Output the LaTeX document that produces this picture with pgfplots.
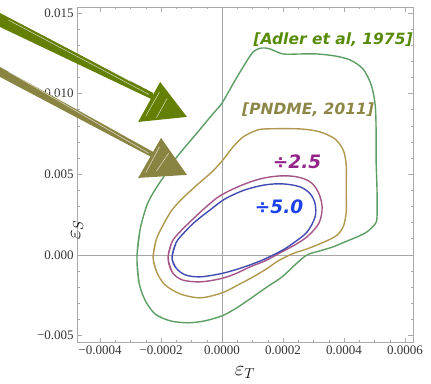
\documentclass[border=0pt]{standalone}
\usepackage{pgfplots}
\pgfplotsset{compat=1.18}
\usepackage{fontspec}
\setmainfont{Liberation Serif}
\newfontfamily\annfont{DejaVu Sans}

\definecolor{framegray}{RGB}{170,170,170}
\definecolor{zerogray}{RGB}{165,165,165}
\definecolor{adlerline}{RGB}{92,158,100}
\definecolor{pndmeline}{RGB}{176,152,78}
\definecolor{magline}{RGB}{165,85,135}
\definecolor{blueline}{RGB}{65,75,178}
\definecolor{adlertext}{RGB}{88,140,8}
\definecolor{pndmetext}{RGB}{140,135,72}
\definecolor{magtext}{RGB}{148,36,138}
\definecolor{bluetext}{RGB}{28,66,235}
\definecolor{arrowA}{RGB}{100,128,4}
\definecolor{arrowB}{RGB}{138,132,66}

\begin{document}
\begin{tikzpicture}
\begin{axis}[
  scale only axis, width=336pt, height=336pt,
  xmin=-0.000475, xmax=0.000626, ymin=-0.00545, ymax=0.01537,
  clip=false,
  axis line style={framegray, line width=0.6pt},
  xtick={-0.0004,-0.0002,0,0.0002,0.0004,0.0006},
  xticklabels={−0.0004,−0.0002,0.0000,0.0002,0.0004,0.0006},
  ytick={-0.005,0,0.005,0.010,0.015},
  yticklabels={−0.005,0.000,0.005,0.010,0.015},
  scaled x ticks=false, scaled y ticks=false,
  minor x tick num=3, minor y tick num=4,
  tick align=inside,
  major tick length=5pt, minor tick length=2.5pt,
  every tick/.style={framegray, line width=0.5pt},
  ticklabel style={font=\fontsize{13}{15}\selectfont, text=black!80},
  xlabel={\fontsize{22}{24}\selectfont$\varepsilon_T$},
  ylabel={\fontsize{22}{24}\selectfont$\varepsilon_S$},
  xlabel style={at={(axis description cs:0.5,0)}, anchor=center, yshift=-30pt, inner sep=0pt},
  ylabel style={at={(axis description cs:0,0.5)}, anchor=center, xshift=-55pt, inner sep=0pt},
]

% axes through the origin
\draw[zerogray, line width=0.6pt] (axis cs:0,-0.00545) -- (axis cs:0,0.01537);
\draw[zerogray, line width=0.6pt] (axis cs:-0.000475,0) -- (axis cs:0.000626,0);

% Adler et al. 1975
\addplot[adlerline, line width=1.4pt, smooth, tension=0.5] coordinates {
(-0.000272,-0.001735)
(-0.000279,-0.000186) (-0.000269,0.001549) (-0.000246,0.003098) (-0.000220,0.004027)
(-0.000187,0.004957) (-0.000148,0.006072) (-0.000082,0.007559) (-0.000033,0.008674)
(0.000000,0.009418) (0.000036,0.010595) (0.000069,0.011648) (0.000102,0.012578)
(0.000131,0.012826) (0.000157,0.012764) (0.000200,0.012454) (0.000256,0.012454)
(0.000311,0.012454) (0.000370,0.012330) (0.000420,0.012082) (0.000462,0.011525)
(0.000489,0.010533) (0.000502,0.009294) (0.000505,0.007745) (0.000505,0.005886)
(0.000508,0.004027) (0.000508,0.002354) (0.000502,0.001921) (0.000475,0.001425)
(0.000443,0.001115) (0.000403,0.000805) (0.000364,0.000496) (0.000321,0.000248)
(0.000279,0.000000) (0.000239,-0.000620) (0.000197,-0.001363) (0.000148,-0.001983)
(0.000092,-0.002726) (0.000043,-0.003346) (0.000000,-0.003780) (-0.000056,-0.004089)
(-0.000111,-0.004213) (-0.000170,-0.004089) (-0.000220,-0.003656) (-0.000253,-0.002788)
(-0.000272,-0.001735) (-0.000279,-0.000186) (-0.000269,0.001549)
};

% PNDME 2011
\addplot[pndmeline, line width=1.4pt, smooth, tension=0.5] coordinates {
(-0.000213,-0.001115)
(-0.000226,-0.000186) (-0.000216,0.000929) (-0.000193,0.001859) (-0.000164,0.002788)
(-0.000128,0.003532) (-0.000082,0.004337) (-0.000033,0.005143) (0.000003,0.005886)
(0.000036,0.006692) (0.000069,0.007311) (0.000108,0.007683) (0.000141,0.007807)
(0.000256,0.007807) (0.000321,0.007621) (0.000370,0.007187) (0.000397,0.006506)
(0.000407,0.005576) (0.000407,0.004027) (0.000407,0.002664) (0.000397,0.001735)
(0.000374,0.001177) (0.000328,0.000744) (0.000279,0.000372) (0.000230,0.000062)
(0.000184,-0.000372) (0.000151,-0.000805) (0.000108,-0.001301) (0.000059,-0.001797)
(0.000000,-0.002354) (-0.000072,-0.002664) (-0.000138,-0.002416) (-0.000187,-0.001859)
(-0.000213,-0.001115) (-0.000226,-0.000186) (-0.000216,0.000929)
};

% errors divided by 2.5
\addplot[magline, line width=1.4pt, smooth, tension=0.55] coordinates {
(-0.000164,-0.001053)
(-0.000177,-0.000186) (-0.000164,0.000805) (-0.000138,0.001425) (-0.000105,0.002045)
(-0.000056,0.002912) (-0.000007,0.003656) (0.000059,0.004275) (0.000125,0.004709)
(0.000190,0.004895) (0.000246,0.004833) (0.000289,0.004523) (0.000315,0.003903)
(0.000328,0.002974) (0.000318,0.001983) (0.000282,0.001177) (0.000239,0.000620)
(0.000190,0.000124) (0.000141,-0.000372) (0.000092,-0.000744) (0.000043,-0.001177)
(-0.000007,-0.001487) (-0.000072,-0.001673) (-0.000131,-0.001549) (-0.000164,-0.001053)
(-0.000177,-0.000186) (-0.000164,0.000805)
};

% errors divided by 5.0
\addplot[blueline, line width=1.4pt, smooth, tension=0.55] coordinates {
(-0.000151,-0.000805)
(-0.000164,-0.000186) (-0.000151,0.000744) (-0.000125,0.001363) (-0.000089,0.002045)
(-0.000039,0.002788) (0.000010,0.003470) (0.000075,0.004027) (0.000141,0.004337)
(0.000200,0.004399) (0.000256,0.004213) (0.000289,0.003780) (0.000305,0.003160)
(0.000305,0.002354) (0.000279,0.001425) (0.000239,0.000805) (0.000200,0.000310)
(0.000141,-0.000248) (0.000092,-0.000620) (0.000043,-0.000929) (-0.000007,-0.001177)
(-0.000072,-0.001363) (-0.000121,-0.001239) (-0.000151,-0.000805) (-0.000164,-0.000186)
(-0.000151,0.000744)
};

% contour labels
\node[text=adlertext, font=\annfont\bfseries\itshape\fontsize{15.5}{17}\selectfont]
  at (axis cs:0.000364,0.013321) {[Adler et al, 1975]};
\node[text=pndmetext, font=\annfont\bfseries\itshape\fontsize{15.5}{17}\selectfont]
  at (axis cs:0.000282,0.008984) {[PNDME, 2011]};
\node[text=magtext, font=\annfont\bfseries\itshape\fontsize{18.5}{20}\selectfont]
  at (axis cs:0.000246,0.005762) {÷2.5};
\node[text=bluetext, font=\annfont\bfseries\itshape\fontsize{18.5}{20}\selectfont]
  at (axis cs:0.000187,0.002974) {÷5.0};

% sketched arrows pointing at the two outer contours
\fill[arrowA] (axis cs:-0.000728,0.014994) -- (axis cs:-0.000226,0.010038)
  -- (axis cs:-0.000226,0.009604) -- (axis cs:-0.000728,0.014127) -- cycle;
\fill[arrowA] (axis cs:-0.000275,0.008241) -- (axis cs:-0.000203,0.010719)
  -- (axis cs:-0.000115,0.008550) -- cycle;
\fill[arrowB] (axis cs:-0.000728,0.011648) -- (axis cs:-0.000226,0.006382)
  -- (axis cs:-0.000226,0.006010) -- (axis cs:-0.000728,0.011029) -- cycle;
\fill[arrowB] (axis cs:-0.000275,0.004771) -- (axis cs:-0.000200,0.007249)
  -- (axis cs:-0.000115,0.004957) -- cycle;
\begin{scope}[white, line width=0.5pt, opacity=0.75]
\draw (axis cs:-0.000700,0.014550) -- (axis cs:-0.000240,0.009950);
\draw (axis cs:-0.000640,0.014200) -- (axis cs:-0.000300,0.010750);
\draw (axis cs:-0.000700,0.011350) -- (axis cs:-0.000240,0.006300);
\draw (axis cs:-0.000620,0.010750) -- (axis cs:-0.000300,0.007200);
\draw (axis cs:-0.000250,0.008600) -- (axis cs:-0.000205,0.010100);
\draw (axis cs:-0.000215,0.008500) -- (axis cs:-0.000180,0.009700);
\draw (axis cs:-0.000250,0.005100) -- (axis cs:-0.000205,0.006700);
\draw (axis cs:-0.000215,0.005200) -- (axis cs:-0.000175,0.006300);
\end{scope}

% picture extent
\path (axis cs:-0.000728,0.0158) rectangle (axis cs:0.000685,-0.007993);
\end{axis}
\end{tikzpicture}
\end{document}
